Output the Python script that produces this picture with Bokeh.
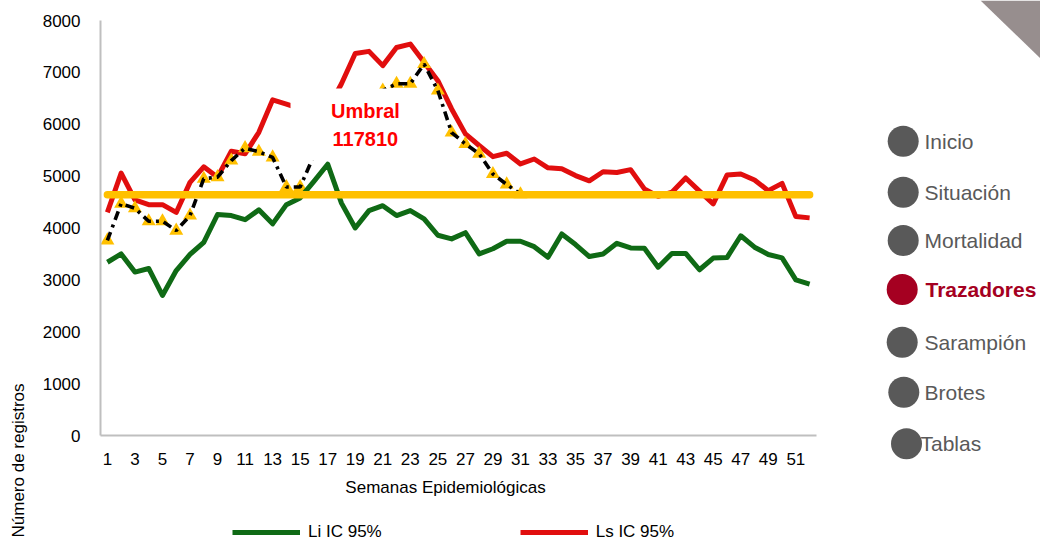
import math
from bokeh.plotting import figure
from bokeh.models import Range1d, FixedTicker, Label, Legend, LegendItem, ColumnDataSource
from bokeh.layouts import row, column
from bokeh.embed import file_html
from bokeh.resources import INLINE

# ---------------- data ----------------
weeks = list(range(1, 53))
li_ic95 = [3340, 3500, 3150, 3220, 2700, 3180, 3490, 3725, 4260, 4240,
           4160, 4350, 4080, 4450, 4580, 4900, 5230, 4480, 4000, 4335,
           4430, 4240, 4335, 4175, 3860, 3790, 3910, 3500, 3600, 3745,
           3745, 3640, 3435, 3885, 3680, 3450, 3500, 3705, 3615, 3610,
           3245, 3510, 3510, 3195, 3420, 3430, 3850, 3630, 3490, 3425,
           3000, 2920]
ls_ic95 = [4300, 5060, 4540, 4450, 4450, 4300, 4880, 5180, 4980, 5480,
           5430, 5845, 6470, 6390, 6300, 6150, 6290, 6780, 7365, 7405,
           7130, 7480, 7545, 7195, 6840, 6295, 5815, 5590, 5375, 5440,
           5235, 5330, 5160, 5140, 5010, 4910, 5085, 5070, 5125, 4755,
           4610, 4690, 4965, 4710, 4465, 5020, 5040, 4925, 4720, 4860,
           4220, 4195]
casos_weeks = list(range(1, 32))
casos = [3760, 4470, 4380, 4130, 4130, 3950, 4240, 4950, 4980, 5300,
         5540, 5470, 5360, 4790, 4790, 5400, 5800, 6100, 6300, 6500,
         6650, 6780, 6780, 7160, 6650, 5840, 5620, 5430, 5040, 4840,
         4650]
umbral_valor = 4640
umbral_serie = [umbral_valor] * len(weeks)
umbral_texto = ["Umbral", "117810"]
x_ticks = list(range(1, 52, 2))
y_ticks = list(range(0, 8001, 1000))
x_title = "Semanas Epidemiológicas"
y_title = "Número de registros"
legend_labels = ["Li IC 95%", "Ls IC 95%"]
nav_items = ["Inicio", "Situación", "Mortalidad", "Trazadores", "Sarampión", "Brotes", "Tablas"]
nav_active = "Trazadores"

# ---------------- styles ----------------
GREEN = "#0F6A15"
RED = "#E10E0E"
GOLD = "#FFC000"
SANS = "Liberation Sans"
FS = "17px"


def blank(w, h):
    f = figure(width=w, height=h, x_range=Range1d(0, w), y_range=Range1d(0, h),
               output_backend="svg", toolbar_location=None, min_border=0,
               x_axis_location=None, y_axis_location=None)
    f.frame_align = False
    f.grid.visible = False
    f.outline_line_color = None
    f.border_fill_color = "white"
    f.background_fill_color = "white"
    return f


# ---------------- main chart ----------------
p = figure(width=800, height=475, x_range=Range1d(0.5, 52.5), y_range=Range1d(0, 8000),
           output_backend="svg", toolbar_location=None,
           min_border_left=70, min_border_right=14, min_border_top=20, min_border_bottom=40)
p.frame_align = False
p.grid.visible = False
p.outline_line_color = None
p.background_fill_color = "white"
p.border_fill_color = "white"

for ax in (p.xaxis[0], p.yaxis[0]):
    ax.major_tick_line_color = None
    ax.minor_tick_line_color = None
    ax.major_tick_out = 0
    ax.major_tick_in = 0
    ax.minor_tick_out = 0
    ax.axis_line_color = "#BFBFBF"
    ax.axis_line_width = 2
    ax.major_label_text_font = SANS
    ax.major_label_text_font_size = FS
    ax.major_label_text_color = "#000000"
p.xaxis.ticker = FixedTicker(ticks=x_ticks)
p.yaxis.ticker = FixedTicker(ticks=y_ticks)
p.xaxis.major_label_standoff = 17
p.yaxis.major_label_standoff = 20

src = ColumnDataSource(dict(w=weeks, li=li_ic95, ls=ls_ic95, um=umbral_serie))
src_c = ColumnDataSource(dict(w=casos_weeks, c=casos))

p.line("w", "ls", source=src, line_color=RED, line_width=5, line_join="round")
p.scatter("w", "c", source=src_c, marker="triangle", size=14, fill_color=GOLD, line_color=None)
p.line("w", "c", source=src_c, line_color="black", line_width=3.6, line_dash="9 5 3 5")
# white text box of the threshold label (hides what lies under it)
p.quad(left=[14.3], right=[23.5], bottom=[5300], top=[6690], fill_color="white", line_color=None)
p.line("w", "li", source=src, line_color=GREEN, line_width=5, line_join="round")
p.line("w", "um", source=src, line_color=GOLD, line_width=7.5, line_cap="round")

for txt, yy in zip(umbral_texto, [6265, 5725]):
    p.add_layout(Label(x=19.74, y=yy, text=txt, text_align="center", text_baseline="middle",
                       text_font=SANS, text_font_size="20px", text_font_style="bold",
                       text_color="#FF0000"))

# ---------------- y title strip (left) ----------------
left = blank(30, 540)
left.add_layout(Label(x=18, y=157, text=y_title, angle=math.pi / 2, text_align="right",
                      text_baseline="middle", text_font=SANS, text_font_size=FS,
                      text_color="#000000"))

# ---------------- x title + legend strip (bottom) ----------------
bottom = blank(800, 65)
bottom.add_layout(Label(x=415, y=53, text=x_title, text_align="center", text_baseline="middle",
                        text_font=SANS, text_font_size=FS, text_color="#000000"))
# legend proxies, drawn outside the visible range
g_li = bottom.line(x=[-50, -40], y=[-50, -50], line_color=GREEN, line_width=5)
g_ls = bottom.line(x=[-50, -40], y=[-50, -50], line_color=RED, line_width=5)
legend = Legend(items=[LegendItem(label=legend_labels[0], renderers=[g_li]),
                       LegendItem(label=legend_labels[1], renderers=[g_ls])],
                orientation="horizontal", location=(202, -2),
                glyph_width=68, glyph_height=18, label_standoff=8, spacing=138,
                padding=0, margin=0, border_line_color=None, background_fill_alpha=0,
                label_text_font=SANS, label_text_font_size=FS, label_height=18,
                label_text_color="#000000")
bottom.add_layout(legend, "center")

# ---------------- navigation panel ----------------
side = blank(210, 540)
side.patch([150, 210, 210], [540, 540, 482], fill_color="#978E8E", line_color=None)

nav_cx = [72.7, 72.7, 72.7, 71.7, 71.7, 73.3, 76.0]
nav_cy = [399.3, 348.3, 300.0, 251.0, 198.3, 148.3, 96.7]
nav_tx = [94, 94, 94, 95, 94, 94, 90]
nav_col = ["#A50021" if n == nav_active else "#595959" for n in nav_items]
side.scatter(nav_cx, nav_cy, marker="circle", size=31, fill_color=nav_col, line_color=None)
for name, tx, cy, col in zip(nav_items, nav_tx, nav_cy, nav_col):
    active = name == nav_active
    side.add_layout(Label(x=tx, y=cy, text=name, text_align="left", text_baseline="middle",
                          text_font=SANS, text_font_size="21px",
                          text_font_style="bold" if active else "normal", text_color=col))

layout = row(left, column(p, bottom), side)
open("out.html", "w").write(file_html(layout, INLINE))
